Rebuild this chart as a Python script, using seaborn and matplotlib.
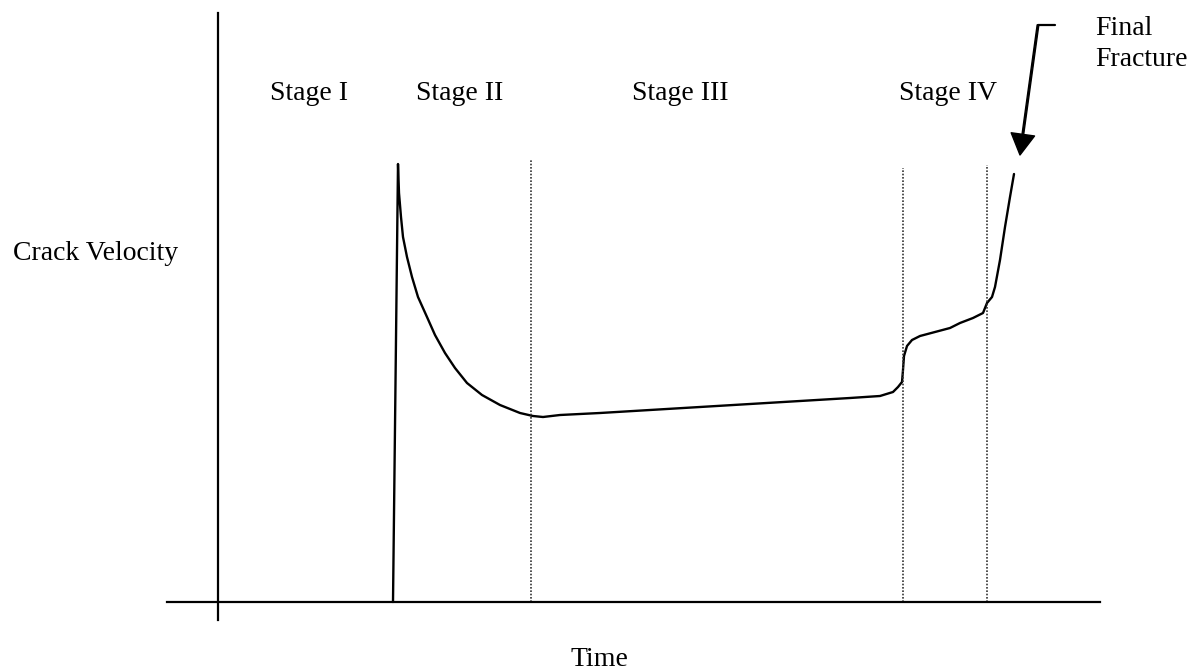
import matplotlib
matplotlib.use("Agg")
import matplotlib.pyplot as plt
import seaborn as sns
import pandas as pd

# crack velocity vs time (schematic, arbitrary units)
time = [1.75, 1.80, 1.81, 1.83, 1.85, 1.89, 1.94, 2.00, 2.09, 2.17, 2.27, 2.37, 2.49,
        2.64, 2.82, 3.02, 3.15, 3.25, 3.42, 3.82, 4.82, 5.82, 6.32, 6.62, 6.75,
        6.80, 6.84, 6.85, 6.86, 6.89, 6.94, 7.02, 7.32, 7.42, 7.55, 7.65, 7.69,
        7.74, 7.77, 7.82, 7.87, 7.92, 7.96]
velocity = [0.00, 4.38, 4.09, 3.85, 3.65, 3.45, 3.25, 3.05, 2.85, 2.67, 2.49, 2.34, 2.19,
            2.07, 1.97, 1.89, 1.86, 1.85, 1.87, 1.89, 1.95, 2.01, 2.04, 2.06, 2.10,
            2.15, 2.20, 2.32, 2.46, 2.56, 2.62, 2.66, 2.74, 2.79, 2.84, 2.89, 2.99,
            3.05, 3.15, 3.42, 3.75, 4.05, 4.28]

# stage boundaries (dotted lines) and their top heights
boundaries = [3.13, 6.85, 7.69]
boundary_tops = [4.42, 4.34, 4.37]

stage_labels = ["Stage I", "Stage II", "Stage III", "Stage IV"]
stage_pos = [0.91, 2.42, 4.62, 7.30]

df = pd.DataFrame({"Time": time, "Crack Velocity": velocity})

sns.set_style("white")
plt.rcParams["font.family"] = ["Liberation Serif", "DejaVu Serif"]
plt.rcParams["text.color"] = "black"

fig = plt.figure(figsize=(12, 6.72), dpi=100)
ax = fig.add_axes([0, 0, 1, 1])

sns.lineplot(data=df, x="Time", y="Crack Velocity", sort=False, estimator=None,
             color="black", linewidth=1.7, ax=ax)

for b, top in zip(boundaries, boundary_tops):
    ax.vlines(b, 0, top, colors="#333333", linestyles=(0, (1, 1)), linewidth=1.2)

ax.set_xlim(-2.18, 9.82)
ax.set_ylim(-0.70, 6.02)

# axes drawn as crossing lines
ax.spines["left"].set_position(("data", 0))
ax.spines["bottom"].set_position(("data", 0))
ax.spines["left"].set_bounds(-0.18, 5.89)
ax.spines["bottom"].set_bounds(-0.51, 8.82)
for s in ["left", "bottom"]:
    ax.spines[s].set_linewidth(1.6)
    ax.spines[s].set_color("black")
ax.spines["top"].set_visible(False)
ax.spines["right"].set_visible(False)
ax.set_xticks([])
ax.set_yticks([])
ax.set_xlabel("")
ax.set_ylabel("")
ax.patch.set_alpha(0)

fs = 20
for lab, x in zip(stage_labels, stage_pos):
    ax.text(x, 5.09, lab, ha="center", va="center", fontsize=fs, color="black")

ax.text(-1.22, 3.49, "Crack Velocity", ha="center", va="center", fontsize=fs, color="black")
ax.text(3.81, -0.58, "Time", ha="center", va="center", fontsize=fs, color="black")
ax.text(8.77, 5.58, "Final\nFracture", ha="left", va="center", fontsize=fs,
        linespacing=1.3, color="black")

# arrow to final fracture
ax.plot([8.37, 8.20], [5.77, 5.77], color="black", linewidth=1.6)
ax.annotate("", xy=(8.02, 4.47), xytext=(8.20, 5.77),
            arrowprops=dict(facecolor="black", edgecolor="black", width=1.2,
                            headwidth=17, headlength=15, shrink=0))

plt.savefig("out.png", dpi=100)
